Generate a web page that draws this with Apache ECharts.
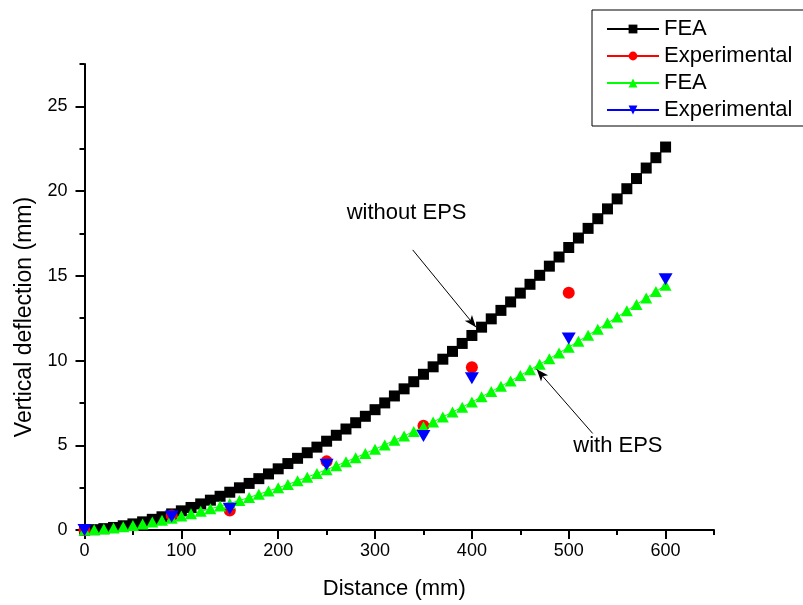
<!DOCTYPE html>
<html>
<head>
<meta charset="utf-8">
<script src="https://cdn.jsdelivr.net/npm/echarts@6/dist/echarts.min.js"></script>
<style>
  html, body { margin: 0; padding: 0; background: #fff; }
  #chart { width: 803px; height: 605px; }
</style>
</head>
<body>
<div id="chart"></div>
<script>
// FEA results, sampled every 10 mm along the span
const feaDistance = [0, 10, 20, 30, 40, 50, 60, 70, 80, 90, 100, 110, 120, 130, 140, 150, 160, 170, 180, 190,
  200, 210, 220, 230, 240, 250, 260, 270, 280, 290, 300, 310, 320, 330, 340, 350, 360, 370, 380, 390,
  400, 410, 420, 430, 440, 450, 460, 470, 480, 490, 500, 510, 520, 530, 540, 550, 560, 570, 580, 590, 600];
const feaWithoutEps = [0, 0.02, 0.08, 0.15, 0.25, 0.36, 0.48, 0.63, 0.78, 0.95, 1.13, 1.33, 1.54, 1.76, 1.99,
  2.23, 2.49, 2.75, 3.03, 3.31, 3.61, 3.92, 4.23, 4.56, 4.89, 5.24, 5.59, 5.96, 6.33, 6.71, 7.10, 7.50, 7.91,
  8.33, 8.75, 9.19, 9.63, 10.08, 10.54, 11.01, 11.48, 11.97, 12.46, 12.96, 13.46, 13.98, 14.50, 15.03, 15.57,
  16.11, 16.67, 17.23, 17.80, 18.37, 18.95, 19.54, 20.14, 20.74, 21.36, 21.97, 22.60];
const feaWithEps = [0, 0.02, 0.06, 0.12, 0.19, 0.27, 0.36, 0.47, 0.58, 0.69, 0.82, 0.96, 1.10, 1.25, 1.41,
  1.57, 1.74, 1.92, 2.11, 2.30, 2.49, 2.69, 2.90, 3.12, 3.34, 3.56, 3.79, 4.03, 4.27, 4.52, 4.77, 5.02, 5.29,
  5.55, 5.82, 6.10, 6.38, 6.67, 6.96, 7.25, 7.55, 7.86, 8.17, 8.48, 8.80, 9.12, 9.45, 9.78, 10.11, 10.45,
  10.79, 11.14, 11.49, 11.85, 12.21, 12.57, 12.94, 13.31, 13.69, 14.07, 14.45];

// Measured deflections
const expWithoutEpsDistance = [0, 90, 150, 250, 350, 400, 500];
const expWithoutEps = [0, 0.85, 1.15, 4.05, 6.15, 9.6, 14.0];
const expWithEpsDistance = [0, 90, 150, 250, 350, 400, 500, 600];
const expWithEps = [0, 0.8, 1.25, 3.85, 5.55, 8.95, 11.3, 14.8];

// Axis ticks
const xMajorTicks = [0, 100, 200, 300, 400, 500, 600];
const xMinorTicks = [50, 150, 250, 350, 450, 550, 650];
const yMajorTicks = [0, 5, 10, 15, 20, 25];
const yMinorTicks = [2.5, 7.5, 12.5, 17.5, 22.5, 27.5];

// Series names and their legend captions
const seriesNames = ['FEA without EPS', 'Experimental without EPS', 'FEA with EPS', 'Experimental with EPS'];
const legendLabels = ['FEA', 'Experimental', 'FEA', 'Experimental'];

// Annotations (data coordinates)
const noteWithoutEps = { text: 'without EPS', at: [270.7, 18.74], arrow: [[338.9, 16.53], [404.2, 11.97]] };
const noteWithEps = { text: 'with EPS', at: [504.7, 4.99], arrow: [[524.7, 5.70], [466.9, 9.48]] };

const FONT = '"Liberation Sans", Arial, Helvetica, sans-serif';
const pairs = (xs, ys) => xs.map((x, i) => [x, ys[i]]);
const captionOf = {};
seriesNames.forEach((n, i) => { captionOf[n] = legendLabels[i]; });

const chart = echarts.init(document.getElementById('chart'), null, { renderer: 'canvas' });

const axisLine = { show: true, onZero: false, lineStyle: { color: '#000', width: 2 } };

const option = {
  animation: false,
  backgroundColor: '#fff',
  textStyle: { fontFamily: FONT, color: '#000' },
  grid: { left: 84.5, right: 89, top: 64, bottom: 73 },
  legend: {
    orient: 'vertical',
    left: 592,
    top: 10,
    padding: [8, 20, 5, 14],
    itemWidth: 52,
    itemHeight: 11,
    itemGap: 5,
    selectedMode: false,
    borderColor: '#000',
    borderWidth: 1,
    borderRadius: 0,
    textStyle: { fontFamily: FONT, fontSize: 22, color: '#000', lineHeight: 22 },
    formatter: name => captionOf[name],
    data: [
      { name: seriesNames[0] },
      { name: seriesNames[1], lineStyle: { opacity: 1 } },
      { name: seriesNames[2] },
      { name: seriesNames[3], lineStyle: { opacity: 1 } }
    ]
  },
  xAxis: [
    {
      type: 'value', min: 0, max: 650, interval: 100, position: 'bottom',
      name: 'Distance (mm)', nameLocation: 'middle', nameGap: 48,
      nameTextStyle: { fontFamily: FONT, fontSize: 22, color: '#000', padding: [0, 10, 0, 0] },
      axisLine: axisLine,
      axisTick: { show: true, inside: false, length: 9, customValues: xMajorTicks, lineStyle: { color: '#000', width: 2 } },
      axisLabel: { show: true, margin: 12, fontSize: 18, color: '#000', fontFamily: FONT, customValues: xMajorTicks },
      splitLine: { show: false }
    },
    {
      type: 'value', min: 0, max: 650, interval: 50, position: 'bottom',
      axisLine: { show: false },
      axisTick: { show: true, inside: false, length: 5, customValues: xMinorTicks, lineStyle: { color: '#000', width: 2 } },
      axisLabel: { show: false },
      splitLine: { show: false }
    }
  ],
  yAxis: [
    {
      type: 'value', min: 0, max: 27.5, interval: 5, position: 'left',
      name: 'Vertical deflection (mm)', nameLocation: 'middle', nameGap: 46,
      nameTextStyle: { fontFamily: FONT, fontSize: 23, color: '#000', padding: [0, 40, 0, 0] },
      axisLine: axisLine,
      axisTick: { show: true, inside: false, length: 9, customValues: yMajorTicks, lineStyle: { color: '#000', width: 2 } },
      axisLabel: { show: true, margin: 17, fontSize: 18, color: '#000', fontFamily: FONT, customValues: yMajorTicks },
      splitLine: { show: false }
    },
    {
      type: 'value', min: 0, max: 27.5, interval: 2.5, position: 'left',
      axisLine: { show: false },
      axisTick: { show: true, inside: false, length: 5, customValues: yMinorTicks, lineStyle: { color: '#000', width: 2 } },
      axisLabel: { show: false },
      splitLine: { show: false }
    }
  ],
  series: [
    {
      name: seriesNames[0], type: 'line', data: pairs(feaDistance, feaWithoutEps),
      symbol: 'rect', symbolSize: 11, showAllSymbol: true,
      itemStyle: { color: '#000000' },
      lineStyle: { color: '#000000', width: 1 },
      emphasis: { disabled: true }
    },
    {
      name: seriesNames[1], type: 'line', data: pairs(expWithoutEpsDistance, expWithoutEps),
      symbol: 'circle', symbolSize: 12, showAllSymbol: true,
      itemStyle: { color: '#ff0000' },
      lineStyle: { color: '#ff0000', width: 1, opacity: 0 },
      emphasis: { disabled: true }
    },
    {
      name: seriesNames[2], type: 'line', data: pairs(feaDistance, feaWithEps),
      symbol: 'triangle', symbolSize: [12, 11], showAllSymbol: true,
      itemStyle: { color: '#00ff00' },
      lineStyle: { color: '#00ff00', width: 1 },
      emphasis: { disabled: true }
    },
    {
      name: seriesNames[3], type: 'line', data: pairs(expWithEpsDistance, expWithEps),
      symbol: 'triangle', symbolRotate: 180, symbolSize: [14, 12], showAllSymbol: true,
      itemStyle: { color: '#0000ff' },
      lineStyle: { color: '#0000ff', width: 1, opacity: 0 },
      emphasis: { disabled: true }
    },
    {
      name: 'notes', type: 'line', data: [], silent: true,
      markLine: {
        silent: true,
        label: { show: false },
        emphasis: { disabled: true },
        lineStyle: { color: '#000', width: 1, type: 'solid' },
        data: [noteWithoutEps, noteWithEps].map(n => [
          { coord: n.arrow[0], symbol: 'none' },
          { coord: n.arrow[1], symbol: 'arrow', symbolSize: [7, 12] }
        ])
      },
      markPoint: {
        silent: true,
        symbol: 'circle',
        symbolSize: 0,
        data: [noteWithoutEps, noteWithEps].map(n => ({
          coord: n.at,
          label: {
            show: true, position: 'right', distance: 0, formatter: n.text,
            fontFamily: FONT, fontSize: 22, color: '#000'
          }
        }))
      }
    }
  ]
};

chart.setOption(option);
</script>
</body>
</html>
